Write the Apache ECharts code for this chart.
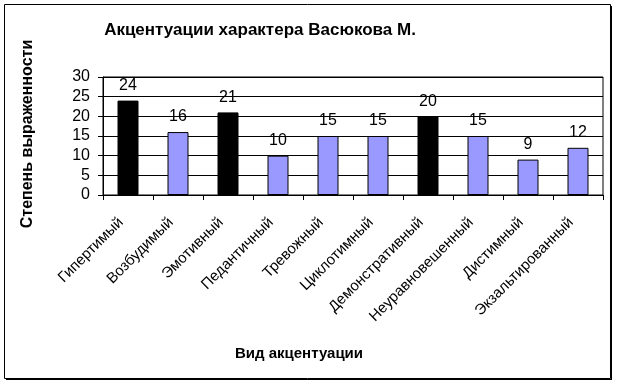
<!DOCTYPE html>
<html>
<head>
<meta charset="utf-8">
<script src="https://cdn.jsdelivr.net/npm/echarts@6/dist/echarts.min.js"></script>
<style>
html,body{margin:0;padding:0;background:#fff;}
#chart{width:617px;height:384px;}
</style>
</head>
<body>
<div id="chart"></div>
<script>
const titleText = 'Акцентуации характера Васюкова М.';
const xAxisTitle = 'Вид акцентуации';
const yAxisTitle = 'Степень выраженности';
const categories = ['Гипертимый','Возбудимый','Эмотивный','Педантичный','Тревожный','Циклотимный','Демонстративный','Неуравновешенный','Дистимный','Экзальтированный'];
const values = [24, 16, 21, 10, 15, 15, 20, 15, 9, 12];
const highlighted = [true, false, true, false, false, false, true, false, false, false];
const yTicks = [0, 5, 10, 15, 20, 25, 30];

const FONT = 'Arial, "Liberation Sans", sans-serif';
const chart = echarts.init(document.getElementById('chart'), null, {renderer: 'canvas'});

const data = values.map((v, i) => ({
  value: v,
  itemStyle: { color: highlighted[i] ? '#000000' : '#9999FF', borderColor: '#000', borderWidth: 1 }
}));

chart.setOption({
  backgroundColor: '#fff',
  animation: false,
  grid: { left: 103, top: 77, right: 14, bottom: 189, show: true, borderColor: '#000', borderWidth: 1, backgroundColor: 'transparent' },
  xAxis: {
    type: 'category',
    data: categories,
    boundaryGap: true,
    axisLine: { lineStyle: { color: '#000', width: 1 } },
    axisTick: { show: true, length: 5, lineStyle: { color: '#000' } },
    axisLabel: { rotate: 45, margin: 18, padding: [0, 10, 0, 0], fontSize: 15, color: '#000', fontFamily: FONT, interval: 0 },
    splitLine: { show: false }
  },
  yAxis: {
    type: 'value',
    min: yTicks[0],
    max: yTicks[yTicks.length - 1],
    interval: yTicks[1] - yTicks[0],
    axisLine: { show: true, lineStyle: { color: '#000', width: 1 } },
    axisTick: { show: true, length: 5, lineStyle: { color: '#000' } },
    axisLabel: { fontSize: 16, color: '#000', fontFamily: FONT, margin: 13 },
    splitLine: { show: true, lineStyle: { color: '#000', width: 1 } }
  },
  series: [{
    type: 'bar',
    data: data,
    barWidth: '42%',
    label: { show: true, position: 'top', distance: 7, fontSize: 16, color: '#000', fontFamily: FONT }
  }],
  graphic: [
    { type: 'rect', shape: { x: 4.5, y: 4.5, width: 606, height: 374 }, style: { fill: 'none', stroke: '#000', lineWidth: 1 }, z: 100 },
    { type: 'line', shape: { x1: 611.5, y1: 6, x2: 611.5, y2: 380 }, style: { stroke: '#000', lineWidth: 1 }, z: 100 },
    { type: 'line', shape: { x1: 6, y1: 379.5, x2: 612, y2: 379.5 }, style: { stroke: '#000', lineWidth: 1 }, z: 100 },
    { type: 'text', x: 260, y: 30, style: { text: titleText, font: 'bold 17px ' + FONT, fill: '#000', align: 'center', verticalAlign: 'middle' } },
    { type: 'text', x: 299, y: 354, style: { text: xAxisTitle, font: 'bold 15px ' + FONT, fill: '#000', align: 'center', verticalAlign: 'middle' } },
    { type: 'text', x: 28, y: 134, rotation: Math.PI / 2, style: { text: yAxisTitle, font: 'bold 16px ' + FONT, fill: '#000', align: 'center', verticalAlign: 'middle' } }
  ]
});
</script>
</body>
</html>
